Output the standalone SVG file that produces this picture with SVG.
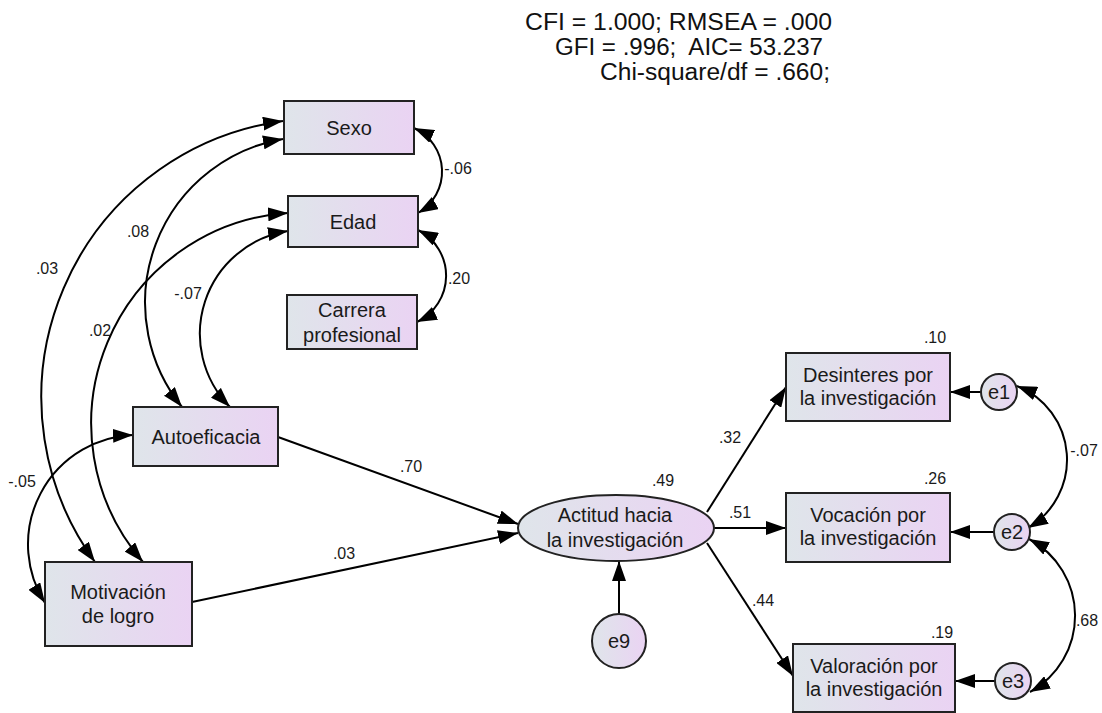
<svg xmlns="http://www.w3.org/2000/svg" width="1102" height="713" viewBox="0 0 1102 713">
<style>
.box{stroke:#222;stroke-width:2;fill:url(#g)}
.lbl{font-family:"Liberation Sans",Arial,sans-serif;font-size:20px;fill:#1a1a1a;text-anchor:middle}
.num{font-family:"Liberation Sans",Arial,sans-serif;font-size:16px;fill:#1a1a1a;text-anchor:middle}
.fit{font-family:"Liberation Sans",Arial,sans-serif;font-size:23px;fill:#111}
.c{fill:none;stroke:#000;stroke-width:2;marker-end:url(#ah)}
.cc{fill:none;stroke:#000;stroke-width:2;marker-start:url(#ah);marker-end:url(#ah)}
</style>
<defs>
<linearGradient id="g" x1="0" y1="0" x2="1" y2="0">
<stop offset="0" stop-color="#dfe5ea"/>
<stop offset="1" stop-color="#ead3f3"/>
</linearGradient>
<marker id="ah" viewBox="0 0 20 14" refX="20" refY="7" markerWidth="20" markerHeight="14" markerUnits="userSpaceOnUse" orient="auto-start-reverse">
<path d="M0,0 L20,7 L0,14 z" fill="#000"/>
</marker>
</defs>
<rect width="1102" height="713" fill="#fff"/>

<g id="fit-indices">
<text class="fit" x="525" y="30" textLength="307" lengthAdjust="spacingAndGlyphs">CFI = 1.000; RMSEA = .000</text>
<text class="fit" x="555" y="55" textLength="268" lengthAdjust="spacingAndGlyphs" xml:space="preserve">GFI = .996;  AIC= 53.237</text>
<text class="fit" x="600" y="80" textLength="230" lengthAdjust="spacingAndGlyphs">Chi-square/df = .660;</text>
</g>

<g id="connectors">
<path class="cc" d="M283,121 A279,279 0 0 0 95,562"/>
<path class="cc" d="M283,139 A166,166 0 0 0 182,407"/>
<path class="cc" d="M288,213 A211,211 0 0 0 143,562"/>
<path class="cc" d="M288,231 A104,104 0 0 0 230,407"/>
<path class="cc" d="M133,435 A109.5,109.5 0 0 0 45,603"/>
<path class="cc" d="M414,128 A47.8,47.8 0 0 1 418,213"/>
<path class="cc" d="M418,230 A51.3,51.3 0 0 1 417,322"/>
<path class="cc" d="M1017,386 A79.3,79.3 0 0 1 1028,528"/>
<path class="cc" d="M1029,539 A87,87 0 0 1 1030,692"/>
<path class="c" d="M278,437 L518,524"/>
<path class="c" d="M192,602 L518,533"/>
<path class="c" d="M707,512 L786,387"/>
<path class="c" d="M714,528 L786,528"/>
<path class="c" d="M707,543 L793,676"/>
<path class="c" d="M619,614 L619,561"/>
<path class="c" d="M981,392 L950,392"/>
<path class="c" d="M994,532 L950,532"/>
<path class="c" d="M995,681 L955,681"/>
<text class="num" x="138" y="237">.08</text>
<text class="num" x="47" y="274">.03</text>
<text class="num" x="188" y="299">-.07</text>
<text class="num" x="100" y="336">.02</text>
<text class="num" x="22" y="487">-.05</text>
<text class="num" x="458" y="174">-.06</text>
<text class="num" x="459" y="284">.20</text>
<text class="num" x="411" y="472">.70</text>
<text class="num" x="344" y="559">.03</text>
<text class="num" x="663" y="486">.49</text>
<text class="num" x="730" y="443">.32</text>
<text class="num" x="740" y="518">.51</text>
<text class="num" x="763" y="606">.44</text>
<text class="num" x="935" y="343">.10</text>
<text class="num" x="935" y="484">.26</text>
<text class="num" x="942" y="638">.19</text>
<text class="num" x="1084" y="456">-.07</text>
<text class="num" x="1087" y="626">.68</text>
</g>

<g id="sexo">
<rect class="box" x="284" y="101" width="130" height="53"/>
<text class="lbl" x="349" y="135">Sexo</text>
</g>
<g id="edad">
<rect class="box" x="288" y="196" width="130" height="51"/>
<text class="lbl" x="353" y="229">Edad</text>
</g>
<g id="carrera">
<rect class="box" x="287" y="295" width="130" height="54"/>
<text class="lbl" x="352" y="317">Carrera</text>
<text class="lbl" x="352" y="342">profesional</text>
</g>
<g id="autoeficacia">
<rect class="box" x="133" y="407" width="145" height="59"/>
<text class="lbl" x="206" y="444">Autoeficacia</text>
</g>
<g id="motivacion">
<rect class="box" x="45" y="562" width="147" height="84"/>
<text class="lbl" x="118" y="599">Motivación</text>
<text class="lbl" x="118" y="623">de logro</text>
</g>
<g id="actitud">
<ellipse class="box" cx="616" cy="528" rx="98" ry="33"/>
<text class="lbl" x="615" y="522">Actitud hacia</text>
<text class="lbl" x="615" y="547">la investigación</text>
</g>
<g id="e9">
<circle class="box" cx="619" cy="641" r="27"/>
<text class="lbl" x="619" y="648">e9</text>
</g>
<g id="desinteres">
<rect class="box" x="786" y="353" width="164" height="68"/>
<text class="lbl" x="868" y="382">Desinteres por</text>
<text class="lbl" x="868" y="405">la investigación</text>
</g>
<g id="vocacion">
<rect class="box" x="786" y="493" width="164" height="69"/>
<text class="lbl" x="868" y="522">Vocación por</text>
<text class="lbl" x="868" y="545">la investigación</text>
</g>
<g id="valoracion">
<rect class="box" x="793" y="644" width="162" height="68"/>
<text class="lbl" x="874" y="673">Valoración por</text>
<text class="lbl" x="874" y="696">la investigación</text>
</g>
<g id="e1">
<circle class="box" cx="999" cy="392" r="18"/>
<text class="lbl" x="999" y="399">e1</text>
</g>
<g id="e2">
<circle class="box" cx="1012" cy="532" r="18"/>
<text class="lbl" x="1012" y="539">e2</text>
</g>
<g id="e3">
<circle class="box" cx="1013" cy="681" r="18"/>
<text class="lbl" x="1013" y="688">e3</text>
</g>
</svg>
